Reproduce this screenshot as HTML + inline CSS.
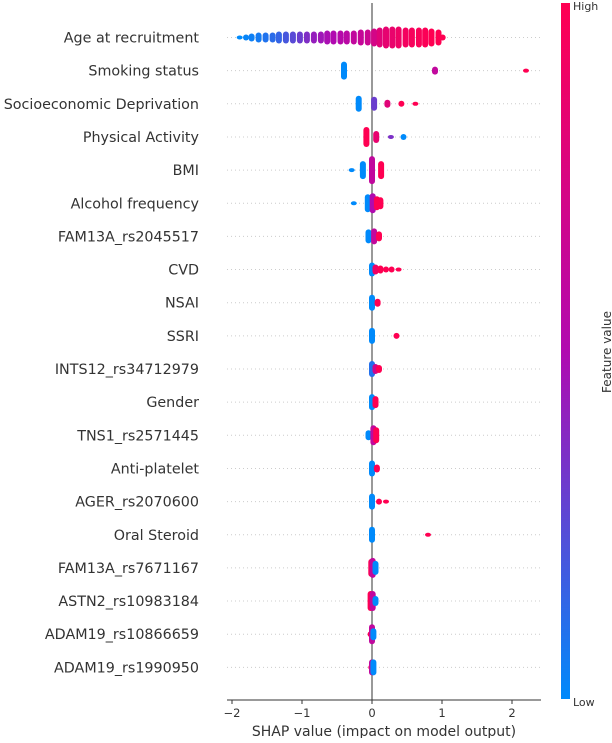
<!DOCTYPE html>
<html><head><meta charset="utf-8"><style>
body{margin:0;background:#fff;}
svg text{font-family:"DejaVu Sans","Liberation Sans",sans-serif;fill:#333;}
</style></head><body>
<svg width="612" height="738" viewBox="0 0 612 738" xmlns="http://www.w3.org/2000/svg">
<defs>
<linearGradient id="cb" x1="0" y1="1" x2="0" y2="0">
<stop offset="0" stop-color="#008afb"/><stop offset="0.5" stop-color="#b10ab0"/><stop offset="1" stop-color="#ff0052"/>
</linearGradient>
</defs>
<g id="grid"></g>
<line x1="372" y1="3" x2="372" y2="700" stroke="#999" stroke-width="2"/>
<g id="marks"></g>
<g id="labels"></g>
<line x1="227" y1="700" x2="541" y2="700" stroke="#333" stroke-width="1"/>
<g id="xticks"></g>
<text x="384" y="736" font-size="14" text-anchor="middle">SHAP value (impact on model output)</text>
<rect x="561" y="3" width="9" height="696" fill="url(#cb)"/>
<text x="573" y="10" font-size="11">High</text>
<text x="573" y="706" font-size="11">Low</text>
<text x="0" y="0" font-size="12" text-anchor="middle" transform="translate(611,352) rotate(-90)">Feature value</text>
</svg>
<script>
const features=["Age at recruitment","Smoking status","Socioeconomic Deprivation","Physical Activity","BMI","Alcohol frequency","FAM13A_rs2045517","CVD","NSAI","SSRI","INTS12_rs34712979","Gender","TNS1_rs2571445","Anti-platelet","AGER_rs2070600","Oral Steroid","FAM13A_rs7671167","ASTN2_rs10983184","ADAM19_rs10866659","ADAM19_rs1990950"];
const xTicks=[-2,-1,0,1,2];
const tickLabels=["\u22122","\u22121","0","1","2"];
const shapVals=[
[-1.89,-1.8,-1.72,-1.62,-1.52,-1.42,-1.33,-1.23,-1.13,-1.03,-0.93,-0.83,-0.73,-0.64,-0.55,-0.45,-0.36,-0.26,-0.16,-0.06,0.03,0.11,0.2,0.29,0.38,0.48,0.57,0.67,0.76,0.85,0.95,1.01],
[-0.4,0.9,2.2],
[-0.19,0.03,0.22,0.42,0.62],
[-0.08,0.06,0.27,0.45],
[-0.29,-0.13,0.0,0.13],
[-0.26,-0.06,0.01,0.07,0.12],
[-0.05,0.03,0.1],
[0.0,0.05,0.12,0.2,0.28,0.38],
[0.0,0.08],
[0.0,0.35],
[0.0,0.05,0.1],
[0.0,0.05],
[-0.05,0.02,0.06],
[0.0,0.07],
[0.0,0.1,0.2],
[0.0,0.8],
[-0.01,0.01,0.05],
[-0.02,0.01,0.05],
[-0.02,0.0,0.02],
[-0.01,0.0,0.02]];
const spreads=[
[2,3,4,5,5,5,6,6,6,6,6,6,6,7,7,7,7,7,8,8,9,10,11,11,11,10,10,10,10,9,8,3],
[9,4,2],[8,7,4,3,2],[10,6,2,3],[2,9,14,9],[2,9,10,7,6],[7,8,5],[7,5,4,3,3,2],[8,4],[8,3],[8,5,4],[8,6],[5,10,8],[8,4],[8,3,2],[8,2],[9,10,7],[10,10,5],[3,10,6],[3,8,8]];
const featVals=[
[0,0.02,0.04,0.06,0.09,0.12,0.15,0.2,0.25,0.3,0.36,0.42,0.45,0.48,0.5,0.53,0.56,0.6,0.63,0.66,0.72,0.8,0.84,0.86,0.9,0.93,0.95,0.97,0.98,1,1,1],
[0,0.6,1],[0,0.3,0.8,1,1],[1,0.85,0.35,0],[0,0,0.6,1],[0,0,0.5,1,1],[0,0.6,1],[0,0.9,1,1,1,1],[0,1],[0,1],[0.1,0.7,1],[0,1],[0,0.6,1],[0,1],[0,1,1],[0,1],[1,0.6,0],[1,0.6,0],[1,0.6,0],[1,0.6,0]];
const NS="http://www.w3.org/2000/svg";
const xScale=v=>372+70*v;
const yScale=i=>37.5+33.15*i;
function col(t){
 const a=[0,138,251],m=[177,10,176],b=[255,0,82];
 let c;
 if(t<0.5){const u=t/0.5;c=a.map((v,k)=>Math.round(v+(m[k]-v)*u));}
 else{const u=(t-0.5)/0.5;c=m.map((v,k)=>Math.round(v+(b[k]-v)*u));}
 return `rgb(${c[0]},${c[1]},${c[2]})`;
}
const grid=document.getElementById('grid'),marks=document.getElementById('marks'),labels=document.getElementById('labels'),xt=document.getElementById('xticks');
features.forEach((f,i)=>{
 const y=yScale(i);
 const l=document.createElementNS(NS,'line');
 l.setAttribute('x1',227);l.setAttribute('x2',541);l.setAttribute('y1',y);l.setAttribute('y2',y);
 l.setAttribute('stroke','#ccc');l.setAttribute('stroke-dasharray','1,3');
 
 
 grid.appendChild(l);
 const t=document.createElementNS(NS,'text');
 t.setAttribute('x',199);t.setAttribute('y',y+5);t.setAttribute('font-size','14.3');t.setAttribute('text-anchor','end');
 t.textContent=f;
 
 
 labels.appendChild(t);
 shapVals[i].forEach((v,j)=>{
  const h=spreads[i][j];
  const r=document.createElementNS(NS,'rect');
  r.setAttribute('x',xScale(v)-3);r.setAttribute('y',y-h);
  r.setAttribute('width',6);r.setAttribute('height',2*h);
  r.setAttribute('rx',3);r.setAttribute('fill',col(featVals[i][j]));
  
  
  marks.appendChild(r);
 });
});
xTicks.forEach((v,k)=>{
 const x=xScale(v);
 const l=document.createElementNS(NS,'line');
 l.setAttribute('x1',x);l.setAttribute('x2',x);l.setAttribute('y1',700);l.setAttribute('y2',704);l.setAttribute('stroke','#333');
 
 
 xt.appendChild(l);
 const t=document.createElementNS(NS,'text');
 t.setAttribute('x',x);t.setAttribute('y',717);t.setAttribute('font-size','11.5');t.setAttribute('text-anchor','middle');
 t.textContent=tickLabels[k];
 
 
 xt.appendChild(t);
});
</script>
</body></html>
